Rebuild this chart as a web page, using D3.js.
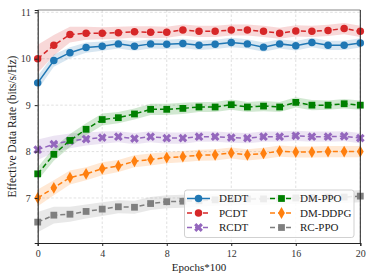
<!DOCTYPE html>
<html>
<head>
<meta charset="utf-8">
<title>Effective Data Rate</title>
<script src="https://cdn.jsdelivr.net/npm/d3@7"></script>
<style>
  * { margin: 0; padding: 0; }
  body { background: #fff; }
  #chart { width: 374px; height: 279px; }
  text { font-family: "Liberation Serif", "DejaVu Serif", serif; }
</style>
</head>
<body>
<div id="chart"></div>
<script>
var epochs = d3.range(0, 21);
var seriesNames = ["DEDT", "PCDT", "RCDT", "DM-PPO", "DM-DDPG", "RC-PPO"];

var dedt    = [9.48, 9.96, 10.13, 10.24, 10.27, 10.32, 10.27, 10.32, 10.31, 10.33, 10.29, 10.31, 10.35, 10.32, 10.25, 10.32, 10.28, 10.35, 10.29, 10.29, 10.34];
var pcdt    = [10.0, 10.29, 10.52, 10.55, 10.55, 10.56, 10.58, 10.57, 10.57, 10.62, 10.59, 10.59, 10.62, 10.62, 10.59, 10.55, 10.6, 10.59, 10.61, 10.65, 10.59];
var rcdt    = [8.04, 8.16, 8.23, 8.27, 8.3, 8.32, 8.28, 8.32, 8.29, 8.29, 8.32, 8.32, 8.3, 8.29, 8.32, 8.32, 8.34, 8.32, 8.32, 8.33, 8.29];
var dmPpo   = [7.52, 7.94, 8.24, 8.48, 8.69, 8.73, 8.81, 8.91, 8.91, 8.93, 8.96, 8.96, 9.01, 8.96, 8.98, 8.96, 9.06, 9.0, 9.0, 9.03, 9.0];
var dmDdpg  = [7.0, 7.22, 7.44, 7.52, 7.63, 7.69, 7.79, 7.83, 7.87, 7.89, 7.92, 7.93, 7.97, 7.93, 7.96, 8.01, 7.99, 7.99, 8.0, 8.0, 8.0];
var rcPpo   = [6.48, 6.63, 6.65, 6.71, 6.76, 6.81, 6.8, 6.88, 6.92, 6.93, 6.94, 6.96, 6.97, 6.98, 6.98, 7.0, 7.0, 7.01, 7.02, 7.02, 7.04];

// half-width of the shaded bands
var dedtStd   = [0.15, 0.13, 0.12, 0.11, 0.1, 0.1, 0.1, 0.1, 0.1, 0.1, 0.1, 0.1, 0.1, 0.1, 0.1, 0.1, 0.1, 0.1, 0.1, 0.1, 0.1];
var pcdtStd   = [0.3, 0.22, 0.17, 0.14, 0.13, 0.13, 0.12, 0.13, 0.12, 0.12, 0.12, 0.12, 0.12, 0.12, 0.12, 0.12, 0.12, 0.12, 0.12, 0.12, 0.12];
var rcdtStd   = [0.22, 0.18, 0.16, 0.14, 0.13, 0.12, 0.12, 0.12, 0.12, 0.12, 0.11, 0.11, 0.11, 0.11, 0.11, 0.11, 0.11, 0.11, 0.11, 0.11, 0.11];
var dmPpoStd  = [0.14, 0.14, 0.14, 0.13, 0.13, 0.12, 0.12, 0.12, 0.12, 0.12, 0.11, 0.11, 0.11, 0.11, 0.11, 0.11, 0.11, 0.11, 0.1, 0.1, 0.1];
var dmDdpgStd = [0.18, 0.16, 0.15, 0.14, 0.14, 0.13, 0.13, 0.13, 0.12, 0.12, 0.12, 0.12, 0.12, 0.12, 0.12, 0.12, 0.12, 0.12, 0.12, 0.12, 0.12];
var rcPpoStd  = [0.22, 0.18, 0.16, 0.15, 0.15, 0.14, 0.14, 0.14, 0.14, 0.14, 0.13, 0.13, 0.13, 0.13, 0.13, 0.13, 0.13, 0.13, 0.13, 0.13, 0.13];

var xTicks = [0, 4, 8, 12, 16, 20];
var yTicks = [7, 8, 9, 10, 11];

var series = [
  {name: "DEDT",    vals: dedt,   std: dedtStd,   color: "#1f77b4", dash: null,  marker: "circle"},
  {name: "PCDT",    vals: pcdt,   std: pcdtStd,   color: "#d62728", dash: "5,3", marker: "circle"},
  {name: "RCDT",    vals: rcdt,   std: rcdtStd,   color: "#9467bd", dash: "5,3", marker: "x"},
  {name: "DM-PPO",  vals: dmPpo,  std: dmPpoStd,  color: "#008000", dash: "5,3", marker: "square"},
  {name: "DM-DDPG", vals: dmDdpg, std: dmDdpgStd, color: "#ff7f0e", dash: "5,3", marker: "diamond"},
  {name: "RC-PPO",  vals: rcPpo,  std: rcPpoStd,  color: "#7f7f7f", dash: "5,3", marker: "square"}
];

var W = 374, H = 279;
var padL = 37.7, padR = 360.3, padT = 10, padB = 243;

var svg = d3.select("#chart").append("svg")
    .attr("width", W).attr("height", H);

var x = d3.scaleLinear().domain([0, 20]).range([padL, padR]);
var y = d3.scaleLinear().domain([6.03, 11.05]).range([padB, padT]);

// grid
var grid = svg.append("g");
grid.selectAll("line.gy").data(yTicks).enter().append("line")
    .attr("x1", padL).attr("x2", padR)
    .attr("y1", function(d) { return y(d); }).attr("y2", function(d) { return y(d); })
    .attr("stroke", "#d8d8d8").attr("stroke-width", 0.8).attr("stroke-dasharray", "2.5,2");
grid.selectAll("line.gx").data(xTicks).enter().append("line")
    .attr("y1", padT).attr("y2", padB)
    .attr("x1", function(d) { return x(d); }).attr("x2", function(d) { return x(d); })
    .attr("stroke", "#d8d8d8").attr("stroke-width", 0.8).attr("stroke-dasharray", "2.5,2");

var area = d3.area()
    .x(function(d, i) { return x(epochs[i]); })
    .y0(function(d) { return y(d[0]); })
    .y1(function(d) { return y(d[1]); });
var line = d3.line()
    .x(function(d, i) { return x(epochs[i]); })
    .y(function(d) { return y(d); });

var symbolFor = {
  circle: d3.symbol().type(d3.symbolCircle).size(44),
  square: d3.symbol().type(d3.symbolSquare).size(46),
  diamond: d3.symbol().type(d3.symbolDiamond).size(40),
  x: d3.symbol().type(d3.symbolCross).size(48)
};
function markerTransform(s, px, py) {
  var t = "translate(" + px + "," + py + ")";
  if (s.marker === "x") t += " rotate(45)";
  return t;
}

series.forEach(function(s) {
  var band = s.vals.map(function(v, i) { return [v - s.std[i], v + s.std[i]]; });
  svg.append("path").datum(band)
      .attr("d", area)
      .attr("fill", s.color).attr("fill-opacity", 0.18);
});

series.forEach(function(s) {
  var g = svg.append("g");
  g.append("path").datum(s.vals)
      .attr("d", line)
      .attr("fill", "none")
      .attr("stroke", s.color).attr("stroke-width", 1.5)
      .attr("stroke-dasharray", s.dash);
  g.selectAll("path.m").data(s.vals).enter().append("path")
      .attr("class", "m")
      .attr("d", symbolFor[s.marker])
      .attr("transform", function(d, i) { return markerTransform(s, x(epochs[i]), y(d)); })
      .attr("fill", s.color);
});

// frame
svg.append("line").attr("x1", padL).attr("x2", padR).attr("y1", padT).attr("y2", padT)
    .attr("stroke", "#888").attr("stroke-width", 1.2);
svg.append("line").attr("x1", padR).attr("x2", padR).attr("y1", padT).attr("y2", padB)
    .attr("stroke", "#222").attr("stroke-width", 1);

var xAxis = svg.append("g")
    .attr("transform", "translate(0," + padB + ")")
    .call(d3.axisBottom(x).tickValues(xTicks).tickSize(3).tickPadding(4));
var yAxis = svg.append("g")
    .attr("transform", "translate(" + padL + ",0)")
    .call(d3.axisLeft(y).tickValues(yTicks).tickFormat(d3.format("d")).tickSize(3).tickPadding(4));
[xAxis, yAxis].forEach(function(a) {
  a.select(".domain").attr("stroke", "#222").attr("stroke-width", 1.1);
  a.selectAll(".tick line").attr("stroke", "#222");
  a.selectAll(".tick text")
      .style("font-family", '"Liberation Serif", serif')
      .style("font-size", "10px").attr("fill", "#333");
});

svg.append("text")
    .attr("x", (padL + padR) / 2).attr("y", 271)
    .attr("text-anchor", "middle")
    .style("font-size", "11px").attr("fill", "#222")
    .text("Epochs*100");
svg.append("text")
    .attr("transform", "translate(16," + ((padT + padB) / 2) + ") rotate(-90)")
    .attr("text-anchor", "middle")
    .style("font-size", "11.5px").attr("fill", "#222")
    .text("Effective Data Rate (bits/s/Hz)");

// legend
var lg = svg.append("g");
lg.append("rect")
    .attr("x", 184.5).attr("y", 190).attr("width", 169.5).attr("height", 47.5)
    .attr("rx", 2.5)
    .attr("fill", "#fff").attr("fill-opacity", 0.85)
    .attr("stroke", "#ccc").attr("stroke-width", 0.9);
var rowY = [198.5, 213, 227.5];
var colX = [{l0: 187, l1: 210, tx: 219}, {l0: 270, l1: 293, tx: 300}];
series.forEach(function(s, i) {
  var c = colX[Math.floor(i / 3)], ry = rowY[i % 3];
  lg.append("line")
      .attr("x1", c.l0).attr("x2", c.l1).attr("y1", ry).attr("y2", ry)
      .attr("stroke", s.color).attr("stroke-width", 1.5)
      .attr("stroke-dasharray", s.dash);
  lg.append("path")
      .attr("d", symbolFor[s.marker])
      .attr("transform", markerTransform(s, (c.l0 + c.l1) / 2, ry))
      .attr("fill", s.color);
  lg.append("text")
      .attr("x", c.tx).attr("y", ry + 3.8)
      .style("font-size", "11px").attr("fill", "#222")
      .text(s.name);
});
</script>
</body>
</html>
